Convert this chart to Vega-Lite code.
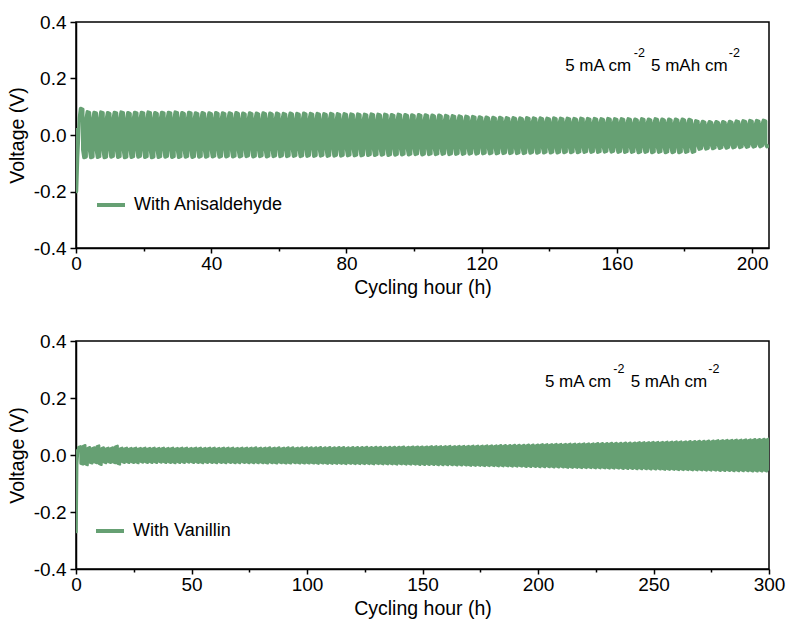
{
"$schema":"https://vega.github.io/schema/vega-lite/v6.json",
"background":"white",
"padding":{"left":6,"top":12,"right":18,"bottom":5},
"config":{
"font":"Liberation Sans",
"view":{"stroke":"black","strokeWidth":1.5},
"axis":{"domainColor":"black","domainWidth":1.5,"tickColor":"black","tickWidth":1.5,"labelColor":"black","titleColor":"black","labelFont":"Liberation Sans","titleFont":"Liberation Sans","labelFontSize":19,"titleFontSize":19.5,"titleFontWeight":"normal","grid":false,"labelFlush":false,"labelOverlap":false},
"legend":{"orient":"none","title":null,"symbolType":"stroke","symbolStrokeWidth":4,"symbolSize":784,"labelFontSize":18,"labelFont":"Liberation Sans","labelColor":"black","labelOffset":7,"padding":0}
},
"spacing":93,
"bounds":"flush",
"resolve":{"scale":{"x":"independent","y":"independent","color":"independent"},"legend":{"color":"independent"}},
"vconcat":[
{
"width":693,"height":226,
"layer":[
{"data":{"values":[
{"t":0,"v":0.025},{"t":0.15,"v":-0.2},{"t":0.45,"v":-0.085},
{"t":1,"v":0.06},{"t":1.35,"v":0.094},{"t":2,"v":0.091},{"t":2,"v":-0.052},{"t":2.35,"v":-0.08},{"t":3,"v":-0.077},
{"t":3,"v":0.058},{"t":3.35,"v":0.082},{"t":4,"v":0.079},{"t":4,"v":-0.052},{"t":4.35,"v":-0.08},{"t":5,"v":-0.077},
{"t":5,"v":0.058},{"t":5.35,"v":0.08},{"t":6,"v":0.077},{"t":6,"v":-0.051},{"t":6.35,"v":-0.079},{"t":7,"v":-0.076},
{"t":7,"v":0.058},{"t":7.35,"v":0.081},{"t":8,"v":0.078},{"t":8,"v":-0.052},{"t":8.35,"v":-0.08},{"t":9,"v":-0.077},
{"t":9,"v":0.057},{"t":9.35,"v":0.079},{"t":10,"v":0.076},{"t":10,"v":-0.051},{"t":10.35,"v":-0.078},{"t":11,"v":-0.075},
{"t":11,"v":0.058},{"t":11.35,"v":0.08},{"t":12,"v":0.077},{"t":12,"v":-0.052},{"t":12.35,"v":-0.079},{"t":13,"v":-0.076},
{"t":13,"v":0.058},{"t":13.35,"v":0.081},{"t":14,"v":0.078},{"t":14,"v":-0.051},{"t":14.35,"v":-0.08},{"t":15,"v":-0.077},
{"t":15,"v":0.057},{"t":15.35,"v":0.079},{"t":16,"v":0.076},{"t":16,"v":-0.051},{"t":16.35,"v":-0.079},{"t":17,"v":-0.076},
{"t":17,"v":0.058},{"t":17.35,"v":0.08},{"t":18,"v":0.077},{"t":18,"v":-0.052},{"t":18.35,"v":-0.078},{"t":19,"v":-0.075},
{"t":19,"v":0.058},{"t":19.35,"v":0.08},{"t":20,"v":0.077},{"t":20,"v":-0.051},{"t":20.35,"v":-0.079},{"t":21,"v":-0.076},
{"t":21,"v":0.057},{"t":21.35,"v":0.081},{"t":22,"v":0.078},{"t":22,"v":-0.052},{"t":22.35,"v":-0.08},{"t":23,"v":-0.077},
{"t":23,"v":0.058},{"t":23.35,"v":0.079},{"t":24,"v":0.076},{"t":24,"v":-0.051},{"t":24.35,"v":-0.079},{"t":25,"v":-0.076},
{"t":25,"v":0.058},{"t":25.35,"v":0.08},{"t":26,"v":0.077},{"t":26,"v":-0.051},{"t":26.35,"v":-0.078},{"t":27,"v":-0.075},
{"t":27,"v":0.057},{"t":27.35,"v":0.08},{"t":28,"v":0.077},{"t":28,"v":-0.052},{"t":28.35,"v":-0.079},{"t":29,"v":-0.076},
{"t":29,"v":0.058},{"t":29.35,"v":0.081},{"t":30,"v":0.078},{"t":30,"v":-0.051},{"t":30.35,"v":-0.079},{"t":31,"v":-0.076},
{"t":31,"v":0.058},{"t":31.35,"v":0.079},{"t":32,"v":0.076},{"t":32,"v":-0.051},{"t":32.35,"v":-0.078},{"t":33,"v":-0.075},
{"t":33,"v":0.057},{"t":33.35,"v":0.08},{"t":34,"v":0.077},{"t":34,"v":-0.052},{"t":34.35,"v":-0.079},{"t":35,"v":-0.076},
{"t":35,"v":0.057},{"t":35.35,"v":0.078},{"t":36,"v":0.075},{"t":36,"v":-0.051},{"t":36.35,"v":-0.078},{"t":37,"v":-0.075},
{"t":37,"v":0.057},{"t":37.35,"v":0.079},{"t":38,"v":0.076},{"t":38,"v":-0.051},{"t":38.35,"v":-0.078},{"t":39,"v":-0.075},
{"t":39,"v":0.056},{"t":39.35,"v":0.078},{"t":40,"v":0.075},{"t":40,"v":-0.05},{"t":40.35,"v":-0.077},{"t":41,"v":-0.074},
{"t":41,"v":0.057},{"t":41.35,"v":0.079},{"t":42,"v":0.076},{"t":42,"v":-0.051},{"t":42.35,"v":-0.078},{"t":43,"v":-0.075},
{"t":43,"v":0.056},{"t":43.35,"v":0.078},{"t":44,"v":0.075},{"t":44,"v":-0.05},{"t":44.35,"v":-0.077},{"t":45,"v":-0.074},
{"t":45,"v":0.056},{"t":45.35,"v":0.078},{"t":46,"v":0.075},{"t":46,"v":-0.05},{"t":46.35,"v":-0.077},{"t":47,"v":-0.074},
{"t":47,"v":0.057},{"t":47.35,"v":0.079},{"t":48,"v":0.076},{"t":48,"v":-0.051},{"t":48.35,"v":-0.077},{"t":49,"v":-0.074},
{"t":49,"v":0.056},{"t":49.35,"v":0.077},{"t":50,"v":0.074},{"t":50,"v":-0.05},{"t":50.35,"v":-0.076},{"t":51,"v":-0.073},
{"t":51,"v":0.056},{"t":51.35,"v":0.078},{"t":52,"v":0.075},{"t":52,"v":-0.05},{"t":52.35,"v":-0.077},{"t":53,"v":-0.074},
{"t":53,"v":0.056},{"t":53.35,"v":0.077},{"t":54,"v":0.074},{"t":54,"v":-0.05},{"t":54.35,"v":-0.076},{"t":55,"v":-0.073},
{"t":55,"v":0.055},{"t":55.35,"v":0.078},{"t":56,"v":0.075},{"t":56,"v":-0.05},{"t":56.35,"v":-0.077},{"t":57,"v":-0.074},
{"t":57,"v":0.056},{"t":57.35,"v":0.077},{"t":58,"v":0.074},{"t":58,"v":-0.05},{"t":58.35,"v":-0.076},{"t":59,"v":-0.073},
{"t":59,"v":0.056},{"t":59.35,"v":0.077},{"t":60,"v":0.074},{"t":60,"v":-0.049},{"t":60.35,"v":-0.076},{"t":61,"v":-0.073},
{"t":61,"v":0.055},{"t":61.35,"v":0.076},{"t":62,"v":0.073},{"t":62,"v":-0.05},{"t":62.35,"v":-0.076},{"t":63,"v":-0.073},
{"t":63,"v":0.056},{"t":63.35,"v":0.077},{"t":64,"v":0.074},{"t":64,"v":-0.049},{"t":64.35,"v":-0.075},{"t":65,"v":-0.072},
{"t":65,"v":0.055},{"t":65.35,"v":0.076},{"t":66,"v":0.073},{"t":66,"v":-0.05},{"t":66.35,"v":-0.076},{"t":67,"v":-0.073},
{"t":67,"v":0.055},{"t":67.35,"v":0.077},{"t":68,"v":0.074},{"t":68,"v":-0.049},{"t":68.35,"v":-0.075},{"t":69,"v":-0.072},
{"t":69,"v":0.055},{"t":69.35,"v":0.076},{"t":70,"v":0.073},{"t":70,"v":-0.049},{"t":70.35,"v":-0.075},{"t":71,"v":-0.072},
{"t":71,"v":0.055},{"t":71.35,"v":0.076},{"t":72,"v":0.073},{"t":72,"v":-0.049},{"t":72.35,"v":-0.074},{"t":73,"v":-0.071},
{"t":73,"v":0.054},{"t":73.35,"v":0.075},{"t":74,"v":0.072},{"t":74,"v":-0.049},{"t":74.35,"v":-0.075},{"t":75,"v":-0.072},
{"t":75,"v":0.055},{"t":75.35,"v":0.076},{"t":76,"v":0.073},{"t":76,"v":-0.048},{"t":76.35,"v":-0.074},{"t":77,"v":-0.071},
{"t":77,"v":0.054},{"t":77.35,"v":0.075},{"t":78,"v":0.072},{"t":78,"v":-0.049},{"t":78.35,"v":-0.074},{"t":79,"v":-0.071},
{"t":79,"v":0.054},{"t":79.35,"v":0.075},{"t":80,"v":0.072},{"t":80,"v":-0.048},{"t":80.35,"v":-0.073},{"t":81,"v":-0.07},
{"t":81,"v":0.054},{"t":81.35,"v":0.074},{"t":82,"v":0.071},{"t":82,"v":-0.048},{"t":82.35,"v":-0.073},{"t":83,"v":-0.07},
{"t":83,"v":0.053},{"t":83.35,"v":0.074},{"t":84,"v":0.071},{"t":84,"v":-0.048},{"t":84.35,"v":-0.073},{"t":85,"v":-0.07},
{"t":85,"v":0.053},{"t":85.35,"v":0.073},{"t":86,"v":0.07},{"t":86,"v":-0.047},{"t":86.35,"v":-0.072},{"t":87,"v":-0.069},
{"t":87,"v":0.053},{"t":87.35,"v":0.074},{"t":88,"v":0.071},{"t":88,"v":-0.048},{"t":88.35,"v":-0.072},{"t":89,"v":-0.069},
{"t":89,"v":0.052},{"t":89.35,"v":0.073},{"t":90,"v":0.07},{"t":90,"v":-0.047},{"t":90.35,"v":-0.071},{"t":91,"v":-0.068},
{"t":91,"v":0.053},{"t":91.35,"v":0.073},{"t":92,"v":0.07},{"t":92,"v":-0.047},{"t":92.35,"v":-0.072},{"t":93,"v":-0.069},
{"t":93,"v":0.052},{"t":93.35,"v":0.072},{"t":94,"v":0.069},{"t":94,"v":-0.047},{"t":94.35,"v":-0.071},{"t":95,"v":-0.068},
{"t":95,"v":0.052},{"t":95.35,"v":0.073},{"t":96,"v":0.07},{"t":96,"v":-0.047},{"t":96.35,"v":-0.07},{"t":97,"v":-0.067},
{"t":97,"v":0.052},{"t":97.35,"v":0.072},{"t":98,"v":0.069},{"t":98,"v":-0.046},{"t":98.35,"v":-0.07},{"t":99,"v":-0.067},
{"t":99,"v":0.051},{"t":99.35,"v":0.071},{"t":100,"v":0.068},{"t":100,"v":-0.046},{"t":100.35,"v":-0.069},{"t":101,"v":-0.066},
{"t":101,"v":0.051},{"t":101.35,"v":0.072},{"t":102,"v":0.069},{"t":102,"v":-0.046},{"t":102.35,"v":-0.07},{"t":103,"v":-0.067},
{"t":103,"v":0.051},{"t":103.35,"v":0.071},{"t":104,"v":0.068},{"t":104,"v":-0.046},{"t":104.35,"v":-0.069},{"t":105,"v":-0.066},
{"t":105,"v":0.05},{"t":105.35,"v":0.07},{"t":106,"v":0.067},{"t":106,"v":-0.046},{"t":106.35,"v":-0.069},{"t":107,"v":-0.066},
{"t":107,"v":0.05},{"t":107.35,"v":0.07},{"t":108,"v":0.067},{"t":108,"v":-0.045},{"t":108.35,"v":-0.068},{"t":109,"v":-0.065},
{"t":109,"v":0.05},{"t":109.35,"v":0.069},{"t":110,"v":0.066},{"t":110,"v":-0.046},{"t":110.35,"v":-0.069},{"t":111,"v":-0.066},
{"t":111,"v":0.049},{"t":111.35,"v":0.068},{"t":112,"v":0.065},{"t":112,"v":-0.045},{"t":112.35,"v":-0.068},{"t":113,"v":-0.065},
{"t":113,"v":0.049},{"t":113.35,"v":0.067},{"t":114,"v":0.064},{"t":114,"v":-0.045},{"t":114.35,"v":-0.068},{"t":115,"v":-0.065},
{"t":115,"v":0.048},{"t":115.35,"v":0.066},{"t":116,"v":0.063},{"t":116,"v":-0.045},{"t":116.35,"v":-0.067},{"t":117,"v":-0.064},
{"t":117,"v":0.048},{"t":117.35,"v":0.065},{"t":118,"v":0.062},{"t":118,"v":-0.045},{"t":118.35,"v":-0.067},{"t":119,"v":-0.064},
{"t":119,"v":0.047},{"t":119.35,"v":0.064},{"t":120,"v":0.061},{"t":120,"v":-0.044},{"t":120.35,"v":-0.066},{"t":121,"v":-0.063},
{"t":121,"v":0.047},{"t":121.35,"v":0.063},{"t":122,"v":0.06},{"t":122,"v":-0.045},{"t":122.35,"v":-0.066},{"t":123,"v":-0.063},
{"t":123,"v":0.046},{"t":123.35,"v":0.062},{"t":124,"v":0.059},{"t":124,"v":-0.044},{"t":124.35,"v":-0.066},{"t":125,"v":-0.063},
{"t":125,"v":0.046},{"t":125.35,"v":0.062},{"t":126,"v":0.059},{"t":126,"v":-0.045},{"t":126.35,"v":-0.065},{"t":127,"v":-0.062},
{"t":127,"v":0.046},{"t":127.35,"v":0.061},{"t":128,"v":0.058},{"t":128,"v":-0.044},{"t":128.35,"v":-0.065},{"t":129,"v":-0.062},
{"t":129,"v":0.045},{"t":129.35,"v":0.061},{"t":130,"v":0.058},{"t":130,"v":-0.045},{"t":130.35,"v":-0.065},{"t":131,"v":-0.062},
{"t":131,"v":0.045},{"t":131.35,"v":0.06},{"t":132,"v":0.057},{"t":132,"v":-0.044},{"t":132.35,"v":-0.065},{"t":133,"v":-0.062},
{"t":133,"v":0.045},{"t":133.35,"v":0.061},{"t":134,"v":0.058},{"t":134,"v":-0.044},{"t":134.35,"v":-0.064},{"t":135,"v":-0.061},
{"t":135,"v":0.045},{"t":135.35,"v":0.06},{"t":136,"v":0.057},{"t":136,"v":-0.044},{"t":136.35,"v":-0.064},{"t":137,"v":-0.061},
{"t":137,"v":0.044},{"t":137.35,"v":0.06},{"t":138,"v":0.057},{"t":138,"v":-0.044},{"t":138.35,"v":-0.063},{"t":139,"v":-0.06},
{"t":139,"v":0.045},{"t":139.35,"v":0.059},{"t":140,"v":0.056},{"t":140,"v":-0.043},{"t":140.35,"v":-0.063},{"t":141,"v":-0.06},
{"t":141,"v":0.044},{"t":141.35,"v":0.06},{"t":142,"v":0.057},{"t":142,"v":-0.044},{"t":142.35,"v":-0.063},{"t":143,"v":-0.06},
{"t":143,"v":0.044},{"t":143.35,"v":0.059},{"t":144,"v":0.056},{"t":144,"v":-0.043},{"t":144.35,"v":-0.062},{"t":145,"v":-0.059},
{"t":145,"v":0.044},{"t":145.35,"v":0.059},{"t":146,"v":0.056},{"t":146,"v":-0.043},{"t":146.35,"v":-0.062},{"t":147,"v":-0.059},
{"t":147,"v":0.044},{"t":147.35,"v":0.058},{"t":148,"v":0.055},{"t":148,"v":-0.043},{"t":148.35,"v":-0.062},{"t":149,"v":-0.059},
{"t":149,"v":0.043},{"t":149.35,"v":0.059},{"t":150,"v":0.056},{"t":150,"v":-0.043},{"t":150.35,"v":-0.061},{"t":151,"v":-0.058},
{"t":151,"v":0.044},{"t":151.35,"v":0.058},{"t":152,"v":0.055},{"t":152,"v":-0.042},{"t":152.35,"v":-0.061},{"t":153,"v":-0.058},
{"t":153,"v":0.043},{"t":153.35,"v":0.058},{"t":154,"v":0.055},{"t":154,"v":-0.043},{"t":154.35,"v":-0.061},{"t":155,"v":-0.058},
{"t":155,"v":0.043},{"t":155.35,"v":0.057},{"t":156,"v":0.054},{"t":156,"v":-0.042},{"t":156.35,"v":-0.06},{"t":157,"v":-0.057},
{"t":157,"v":0.043},{"t":157.35,"v":0.058},{"t":158,"v":0.055},{"t":158,"v":-0.042},{"t":158.35,"v":-0.06},{"t":159,"v":-0.057},
{"t":159,"v":0.043},{"t":159.35,"v":0.057},{"t":160,"v":0.054},{"t":160,"v":-0.042},{"t":160.35,"v":-0.061},{"t":161,"v":-0.058},
{"t":161,"v":0.043},{"t":161.35,"v":0.057},{"t":162,"v":0.054},{"t":162,"v":-0.043},{"t":162.35,"v":-0.061},{"t":163,"v":-0.058},
{"t":163,"v":0.042},{"t":163.35,"v":0.057},{"t":164,"v":0.054},{"t":164,"v":-0.042},{"t":164.35,"v":-0.061},{"t":165,"v":-0.058},
{"t":165,"v":0.042},{"t":165.35,"v":0.056},{"t":166,"v":0.053},{"t":166,"v":-0.043},{"t":166.35,"v":-0.062},{"t":167,"v":-0.059},
{"t":167,"v":0.043},{"t":167.35,"v":0.057},{"t":168,"v":0.054},{"t":168,"v":-0.042},{"t":168.35,"v":-0.061},{"t":169,"v":-0.058},
{"t":169,"v":0.042},{"t":169.35,"v":0.056},{"t":170,"v":0.053},{"t":170,"v":-0.043},{"t":170.35,"v":-0.062},{"t":171,"v":-0.059},
{"t":171,"v":0.042},{"t":171.35,"v":0.057},{"t":172,"v":0.054},{"t":172,"v":-0.042},{"t":172.35,"v":-0.061},{"t":173,"v":-0.058},
{"t":173,"v":0.042},{"t":173.35,"v":0.056},{"t":174,"v":0.053},{"t":174,"v":-0.043},{"t":174.35,"v":-0.062},{"t":175,"v":-0.059},
{"t":175,"v":0.042},{"t":175.35,"v":0.056},{"t":176,"v":0.053},{"t":176,"v":-0.042},{"t":176.35,"v":-0.062},{"t":177,"v":-0.059},
{"t":177,"v":0.041},{"t":177.35,"v":0.056},{"t":178,"v":0.053},{"t":178,"v":-0.043},{"t":178.35,"v":-0.062},{"t":179,"v":-0.059},
{"t":179,"v":0.042},{"t":179.35,"v":0.056},{"t":180,"v":0.053},{"t":180,"v":-0.042},{"t":180.35,"v":-0.061},{"t":181,"v":-0.058},
{"t":181,"v":0.041},{"t":181.35,"v":0.055},{"t":182,"v":0.052},{"t":182,"v":-0.042},{"t":182.35,"v":-0.061},{"t":183,"v":-0.058},
{"t":183,"v":0.037},{"t":183.35,"v":0.05},{"t":184,"v":0.047},{"t":184,"v":-0.038},{"t":184.35,"v":-0.05},{"t":185,"v":-0.047},
{"t":185,"v":0.036},{"t":185.35,"v":0.048},{"t":186,"v":0.045},{"t":186,"v":-0.037},{"t":186.35,"v":-0.049},{"t":187,"v":-0.046},
{"t":187,"v":0.035},{"t":187.35,"v":0.047},{"t":188,"v":0.044},{"t":188,"v":-0.036},{"t":188.35,"v":-0.048},{"t":189,"v":-0.045},
{"t":189,"v":0.035},{"t":189.35,"v":0.047},{"t":190,"v":0.044},{"t":190,"v":-0.035},{"t":190.35,"v":-0.047},{"t":191,"v":-0.044},
{"t":191,"v":0.036},{"t":191.35,"v":0.047},{"t":192,"v":0.044},{"t":192,"v":-0.035},{"t":192.35,"v":-0.046},{"t":193,"v":-0.043},
{"t":193,"v":0.036},{"t":193.35,"v":0.048},{"t":194,"v":0.045},{"t":194,"v":-0.034},{"t":194.35,"v":-0.045},{"t":195,"v":-0.042},
{"t":195,"v":0.037},{"t":195.35,"v":0.049},{"t":196,"v":0.046},{"t":196,"v":-0.033},{"t":196.35,"v":-0.044},{"t":197,"v":-0.041},
{"t":197,"v":0.037},{"t":197.35,"v":0.05},{"t":198,"v":0.047},{"t":198,"v":-0.033},{"t":198.35,"v":-0.043},{"t":199,"v":-0.04},
{"t":199,"v":0.038},{"t":199.35,"v":0.051},{"t":200,"v":0.048},{"t":200,"v":-0.032},{"t":200.35,"v":-0.042},{"t":201,"v":-0.039},
{"t":201,"v":0.038},{"t":201.35,"v":0.051},{"t":202,"v":0.048},{"t":202,"v":-0.031},{"t":202.35,"v":-0.041},{"t":203,"v":-0.038},
{"t":203,"v":0.039},{"t":203.35,"v":0.052},{"t":204,"v":0.049},{"t":204,"v":-0.031},{"t":204.35,"v":-0.041},{"t":205,"v":-0.038}
]},
"mark":{"type":"line","strokeWidth":3.5,"clip":true,"strokeJoin":"round"},
"encoding":{
"x":{"field":"t","type":"quantitative","scale":{"domain":[0,205],"nice":false,"zero":false},
"axis":{"title":"Cycling hour (h)","values":[0,20,40,60,80,100,120,140,160,180,200],"labelExpr":"datum.value % 40 == 0 ? datum.label : ''","tickSize":{"condition":{"test":"datum.value % 40 != 0","value":3},"value":5},"labelPadding":1,"titlePadding":5}},
"y":{"field":"v","type":"quantitative","scale":{"domain":[-0.4,0.4],"nice":false},
"axis":{"title":"Voltage (V)","values":[-0.4,-0.3,-0.2,-0.1,0,0.1,0.2,0.3,0.4],"labelExpr":"abs(round(datum.value*10)) % 2 == 0 ? replace(format(datum.value,'.1f'),'\u2212','-') : ''","tickSize":{"condition":{"test":"abs(round(datum.value*10)) % 2 == 1","value":3},"value":6},"labelPadding":4,"titlePadding":6}},
"color":{"datum":"With Anisaldehyde","scale":{"range":["#66A073"]},"legend":{"legendX":19,"legendY":167}}
}},
{"data":{"values":[{"t":144.7,"v":0.225,"s":"5 mA cm"},{"t":170.1,"v":0.225,"s":"5 mAh cm"}]},
"mark":{"type":"text","align":"left","baseline":"alphabetic","fontSize":17,"font":"Liberation Sans","color":"black"},
"encoding":{"x":{"field":"t","type":"quantitative"},"y":{"field":"v","type":"quantitative"},"text":{"field":"s"}}},
{"data":{"values":[{"t":165,"v":0.276,"s":"-2"},{"t":193.1,"v":0.276,"s":"-2"}]},
"mark":{"type":"text","align":"left","baseline":"alphabetic","fontSize":12.5,"font":"Liberation Sans","color":"black"},
"encoding":{"x":{"field":"t","type":"quantitative"},"y":{"field":"v","type":"quantitative"},"text":{"field":"s"}}}
]
},
{
"width":693,"height":228,
"layer":[
{"data":{"values":[
{"t":0,"v":0.02},{"t":0.2,"v":-0.27},{"t":0.5,"v":-0.03},
{"t":1,"v":0.027},{"t":2,"v":0.03},{"t":2,"v":-0.03},{"t":3,"v":-0.033},
{"t":3,"v":0.031},{"t":4,"v":0.034},{"t":4,"v":-0.032},{"t":5,"v":-0.035},
{"t":5,"v":0.024},{"t":6,"v":0.027},{"t":6,"v":-0.026},{"t":7,"v":-0.029},
{"t":7,"v":0.023},{"t":8,"v":0.026},{"t":8,"v":-0.025},{"t":9,"v":-0.028},
{"t":9,"v":0.03},{"t":10,"v":0.033},{"t":10,"v":-0.031},{"t":11,"v":-0.034},
{"t":11,"v":0.023},{"t":12,"v":0.026},{"t":12,"v":-0.025},{"t":13,"v":-0.028},
{"t":13,"v":0.022},{"t":14,"v":0.025},{"t":14,"v":-0.024},{"t":15,"v":-0.027},
{"t":15,"v":0.023},{"t":16,"v":0.026},{"t":16,"v":-0.025},{"t":17,"v":-0.028},
{"t":17,"v":0.029},{"t":18,"v":0.032},{"t":18,"v":-0.03},{"t":19,"v":-0.033},
{"t":19,"v":0.022},{"t":20,"v":0.025},{"t":20,"v":-0.024},{"t":21,"v":-0.027},
{"t":21,"v":0.022},{"t":22,"v":0.025},{"t":22,"v":-0.024},{"t":23,"v":-0.027},
{"t":23,"v":0.021},{"t":24,"v":0.024},{"t":24,"v":-0.024},{"t":25,"v":-0.027},
{"t":25,"v":0.022},{"t":26,"v":0.025},{"t":26,"v":-0.025},{"t":27,"v":-0.028},
{"t":27,"v":0.021},{"t":28,"v":0.024},{"t":28,"v":-0.023},{"t":29,"v":-0.026},
{"t":29,"v":0.022},{"t":30,"v":0.025},{"t":30,"v":-0.024},{"t":31,"v":-0.027},
{"t":31,"v":0.021},{"t":32,"v":0.024},{"t":32,"v":-0.024},{"t":33,"v":-0.027},
{"t":33,"v":0.022},{"t":34,"v":0.025},{"t":34,"v":-0.024},{"t":35,"v":-0.027},
{"t":35,"v":0.021},{"t":36,"v":0.024},{"t":36,"v":-0.023},{"t":37,"v":-0.026},
{"t":37,"v":0.022},{"t":38,"v":0.025},{"t":38,"v":-0.024},{"t":39,"v":-0.027},
{"t":39,"v":0.021},{"t":40,"v":0.024},{"t":40,"v":-0.024},{"t":41,"v":-0.027},
{"t":41,"v":0.022},{"t":42,"v":0.025},{"t":42,"v":-0.025},{"t":43,"v":-0.028},
{"t":43,"v":0.021},{"t":44,"v":0.024},{"t":44,"v":-0.024},{"t":45,"v":-0.027},
{"t":45,"v":0.022},{"t":46,"v":0.025},{"t":46,"v":-0.024},{"t":47,"v":-0.027},
{"t":47,"v":0.022},{"t":48,"v":0.025},{"t":48,"v":-0.023},{"t":49,"v":-0.026},
{"t":49,"v":0.021},{"t":50,"v":0.024},{"t":50,"v":-0.024},{"t":51,"v":-0.027},
{"t":51,"v":0.022},{"t":52,"v":0.025},{"t":52,"v":-0.024},{"t":53,"v":-0.027},
{"t":53,"v":0.022},{"t":54,"v":0.025},{"t":54,"v":-0.025},{"t":55,"v":-0.028},
{"t":55,"v":0.021},{"t":56,"v":0.024},{"t":56,"v":-0.024},{"t":57,"v":-0.027},
{"t":57,"v":0.022},{"t":58,"v":0.025},{"t":58,"v":-0.024},{"t":59,"v":-0.027},
{"t":59,"v":0.022},{"t":60,"v":0.025},{"t":60,"v":-0.025},{"t":61,"v":-0.028},
{"t":61,"v":0.021},{"t":62,"v":0.024},{"t":62,"v":-0.024},{"t":63,"v":-0.027},
{"t":63,"v":0.022},{"t":64,"v":0.025},{"t":64,"v":-0.025},{"t":65,"v":-0.028},
{"t":65,"v":0.022},{"t":66,"v":0.025},{"t":66,"v":-0.024},{"t":67,"v":-0.027},
{"t":67,"v":0.022},{"t":68,"v":0.025},{"t":68,"v":-0.025},{"t":69,"v":-0.028},
{"t":69,"v":0.021},{"t":70,"v":0.024},{"t":70,"v":-0.025},{"t":71,"v":-0.028},
{"t":71,"v":0.022},{"t":72,"v":0.025},{"t":72,"v":-0.024},{"t":73,"v":-0.027},
{"t":73,"v":0.022},{"t":74,"v":0.025},{"t":74,"v":-0.025},{"t":75,"v":-0.028},
{"t":75,"v":0.022},{"t":76,"v":0.025},{"t":76,"v":-0.025},{"t":77,"v":-0.028},
{"t":77,"v":0.023},{"t":78,"v":0.026},{"t":78,"v":-0.025},{"t":79,"v":-0.028},
{"t":79,"v":0.022},{"t":80,"v":0.025},{"t":80,"v":-0.025},{"t":81,"v":-0.028},
{"t":81,"v":0.022},{"t":82,"v":0.025},{"t":82,"v":-0.026},{"t":83,"v":-0.029},
{"t":83,"v":0.023},{"t":84,"v":0.026},{"t":84,"v":-0.025},{"t":85,"v":-0.028},
{"t":85,"v":0.022},{"t":86,"v":0.025},{"t":86,"v":-0.026},{"t":87,"v":-0.029},
{"t":87,"v":0.023},{"t":88,"v":0.026},{"t":88,"v":-0.025},{"t":89,"v":-0.028},
{"t":89,"v":0.022},{"t":90,"v":0.025},{"t":90,"v":-0.026},{"t":91,"v":-0.029},
{"t":91,"v":0.023},{"t":92,"v":0.026},{"t":92,"v":-0.026},{"t":93,"v":-0.029},
{"t":93,"v":0.023},{"t":94,"v":0.026},{"t":94,"v":-0.025},{"t":95,"v":-0.028},
{"t":95,"v":0.022},{"t":96,"v":0.025},{"t":96,"v":-0.026},{"t":97,"v":-0.029},
{"t":97,"v":0.023},{"t":98,"v":0.026},{"t":98,"v":-0.026},{"t":99,"v":-0.029},
{"t":99,"v":0.023},{"t":100,"v":0.026},{"t":100,"v":-0.026},{"t":101,"v":-0.029},
{"t":101,"v":0.023},{"t":102,"v":0.026},{"t":102,"v":-0.026},{"t":103,"v":-0.029},
{"t":103,"v":0.023},{"t":104,"v":0.026},{"t":104,"v":-0.027},{"t":105,"v":-0.03},
{"t":105,"v":0.024},{"t":106,"v":0.027},{"t":106,"v":-0.026},{"t":107,"v":-0.029},
{"t":107,"v":0.023},{"t":108,"v":0.026},{"t":108,"v":-0.027},{"t":109,"v":-0.03},
{"t":109,"v":0.024},{"t":110,"v":0.027},{"t":110,"v":-0.027},{"t":111,"v":-0.03},
{"t":111,"v":0.023},{"t":112,"v":0.026},{"t":112,"v":-0.027},{"t":113,"v":-0.03},
{"t":113,"v":0.024},{"t":114,"v":0.027},{"t":114,"v":-0.027},{"t":115,"v":-0.03},
{"t":115,"v":0.024},{"t":116,"v":0.027},{"t":116,"v":-0.028},{"t":117,"v":-0.031},
{"t":117,"v":0.023},{"t":118,"v":0.026},{"t":118,"v":-0.027},{"t":119,"v":-0.03},
{"t":119,"v":0.024},{"t":120,"v":0.027},{"t":120,"v":-0.028},{"t":121,"v":-0.031},
{"t":121,"v":0.024},{"t":122,"v":0.027},{"t":122,"v":-0.028},{"t":123,"v":-0.031},
{"t":123,"v":0.024},{"t":124,"v":0.027},{"t":124,"v":-0.028},{"t":125,"v":-0.031},
{"t":125,"v":0.025},{"t":126,"v":0.028},{"t":126,"v":-0.028},{"t":127,"v":-0.031},
{"t":127,"v":0.024},{"t":128,"v":0.027},{"t":128,"v":-0.029},{"t":129,"v":-0.032},
{"t":129,"v":0.025},{"t":130,"v":0.028},{"t":130,"v":-0.028},{"t":131,"v":-0.031},
{"t":131,"v":0.025},{"t":132,"v":0.028},{"t":132,"v":-0.029},{"t":133,"v":-0.032},
{"t":133,"v":0.024},{"t":134,"v":0.027},{"t":134,"v":-0.029},{"t":135,"v":-0.032},
{"t":135,"v":0.025},{"t":136,"v":0.028},{"t":136,"v":-0.029},{"t":137,"v":-0.032},
{"t":137,"v":0.025},{"t":138,"v":0.028},{"t":138,"v":-0.03},{"t":139,"v":-0.033},
{"t":139,"v":0.025},{"t":140,"v":0.028},{"t":140,"v":-0.029},{"t":141,"v":-0.032},
{"t":141,"v":0.026},{"t":142,"v":0.029},{"t":142,"v":-0.03},{"t":143,"v":-0.033},
{"t":143,"v":0.025},{"t":144,"v":0.028},{"t":144,"v":-0.03},{"t":145,"v":-0.033},
{"t":145,"v":0.026},{"t":146,"v":0.029},{"t":146,"v":-0.03},{"t":147,"v":-0.033},
{"t":147,"v":0.026},{"t":148,"v":0.029},{"t":148,"v":-0.031},{"t":149,"v":-0.034},
{"t":149,"v":0.026},{"t":150,"v":0.029},{"t":150,"v":-0.031},{"t":151,"v":-0.034},
{"t":151,"v":0.026},{"t":152,"v":0.029},{"t":152,"v":-0.031},{"t":153,"v":-0.034},
{"t":153,"v":0.027},{"t":154,"v":0.03},{"t":154,"v":-0.031},{"t":155,"v":-0.034},
{"t":155,"v":0.027},{"t":156,"v":0.03},{"t":156,"v":-0.032},{"t":157,"v":-0.035},
{"t":157,"v":0.027},{"t":158,"v":0.03},{"t":158,"v":-0.032},{"t":159,"v":-0.035},
{"t":159,"v":0.027},{"t":160,"v":0.03},{"t":160,"v":-0.032},{"t":161,"v":-0.035},
{"t":161,"v":0.028},{"t":162,"v":0.031},{"t":162,"v":-0.032},{"t":163,"v":-0.035},
{"t":163,"v":0.027},{"t":164,"v":0.03},{"t":164,"v":-0.033},{"t":165,"v":-0.036},
{"t":165,"v":0.028},{"t":166,"v":0.031},{"t":166,"v":-0.033},{"t":167,"v":-0.036},
{"t":167,"v":0.028},{"t":168,"v":0.031},{"t":168,"v":-0.033},{"t":169,"v":-0.036},
{"t":169,"v":0.028},{"t":170,"v":0.031},{"t":170,"v":-0.034},{"t":171,"v":-0.037},
{"t":171,"v":0.029},{"t":172,"v":0.032},{"t":172,"v":-0.034},{"t":173,"v":-0.037},
{"t":173,"v":0.029},{"t":174,"v":0.032},{"t":174,"v":-0.034},{"t":175,"v":-0.037},
{"t":175,"v":0.029},{"t":176,"v":0.032},{"t":176,"v":-0.035},{"t":177,"v":-0.038},
{"t":177,"v":0.03},{"t":178,"v":0.033},{"t":178,"v":-0.035},{"t":179,"v":-0.038},
{"t":179,"v":0.03},{"t":180,"v":0.033},{"t":180,"v":-0.035},{"t":181,"v":-0.038},
{"t":181,"v":0.03},{"t":182,"v":0.033},{"t":182,"v":-0.036},{"t":183,"v":-0.039},
{"t":183,"v":0.031},{"t":184,"v":0.034},{"t":184,"v":-0.036},{"t":185,"v":-0.039},
{"t":185,"v":0.031},{"t":186,"v":0.034},{"t":186,"v":-0.036},{"t":187,"v":-0.039},
{"t":187,"v":0.031},{"t":188,"v":0.034},{"t":188,"v":-0.037},{"t":189,"v":-0.04},
{"t":189,"v":0.032},{"t":190,"v":0.035},{"t":190,"v":-0.037},{"t":191,"v":-0.04},
{"t":191,"v":0.032},{"t":192,"v":0.035},{"t":192,"v":-0.037},{"t":193,"v":-0.04},
{"t":193,"v":0.032},{"t":194,"v":0.035},{"t":194,"v":-0.038},{"t":195,"v":-0.041},
{"t":195,"v":0.033},{"t":196,"v":0.036},{"t":196,"v":-0.038},{"t":197,"v":-0.041},
{"t":197,"v":0.033},{"t":198,"v":0.036},{"t":198,"v":-0.038},{"t":199,"v":-0.041},
{"t":199,"v":0.033},{"t":200,"v":0.036},{"t":200,"v":-0.039},{"t":201,"v":-0.042},
{"t":201,"v":0.034},{"t":202,"v":0.037},{"t":202,"v":-0.039},{"t":203,"v":-0.042},
{"t":203,"v":0.034},{"t":204,"v":0.037},{"t":204,"v":-0.039},{"t":205,"v":-0.042},
{"t":205,"v":0.034},{"t":206,"v":0.037},{"t":206,"v":-0.04},{"t":207,"v":-0.043},
{"t":207,"v":0.035},{"t":208,"v":0.038},{"t":208,"v":-0.04},{"t":209,"v":-0.043},
{"t":209,"v":0.035},{"t":210,"v":0.038},{"t":210,"v":-0.04},{"t":211,"v":-0.043},
{"t":211,"v":0.035},{"t":212,"v":0.038},{"t":212,"v":-0.041},{"t":213,"v":-0.044},
{"t":213,"v":0.036},{"t":214,"v":0.039},{"t":214,"v":-0.041},{"t":215,"v":-0.044},
{"t":215,"v":0.036},{"t":216,"v":0.039},{"t":216,"v":-0.041},{"t":217,"v":-0.044},
{"t":217,"v":0.036},{"t":218,"v":0.039},{"t":218,"v":-0.042},{"t":219,"v":-0.045},
{"t":219,"v":0.037},{"t":220,"v":0.04},{"t":220,"v":-0.042},{"t":221,"v":-0.045},
{"t":221,"v":0.037},{"t":222,"v":0.04},{"t":222,"v":-0.042},{"t":223,"v":-0.045},
{"t":223,"v":0.037},{"t":224,"v":0.04},{"t":224,"v":-0.043},{"t":225,"v":-0.046},
{"t":225,"v":0.038},{"t":226,"v":0.041},{"t":226,"v":-0.043},{"t":227,"v":-0.046},
{"t":227,"v":0.038},{"t":228,"v":0.041},{"t":228,"v":-0.043},{"t":229,"v":-0.046},
{"t":229,"v":0.038},{"t":230,"v":0.041},{"t":230,"v":-0.044},{"t":231,"v":-0.047},
{"t":231,"v":0.039},{"t":232,"v":0.042},{"t":232,"v":-0.044},{"t":233,"v":-0.047},
{"t":233,"v":0.039},{"t":234,"v":0.042},{"t":234,"v":-0.044},{"t":235,"v":-0.047},
{"t":235,"v":0.039},{"t":236,"v":0.042},{"t":236,"v":-0.045},{"t":237,"v":-0.048},
{"t":237,"v":0.04},{"t":238,"v":0.043},{"t":238,"v":-0.045},{"t":239,"v":-0.048},
{"t":239,"v":0.04},{"t":240,"v":0.043},{"t":240,"v":-0.045},{"t":241,"v":-0.048},
{"t":241,"v":0.04},{"t":242,"v":0.043},{"t":242,"v":-0.046},{"t":243,"v":-0.049},
{"t":243,"v":0.041},{"t":244,"v":0.044},{"t":244,"v":-0.046},{"t":245,"v":-0.049},
{"t":245,"v":0.041},{"t":246,"v":0.044},{"t":246,"v":-0.046},{"t":247,"v":-0.049},
{"t":247,"v":0.041},{"t":248,"v":0.044},{"t":248,"v":-0.047},{"t":249,"v":-0.05},
{"t":249,"v":0.042},{"t":250,"v":0.045},{"t":250,"v":-0.047},{"t":251,"v":-0.05},
{"t":251,"v":0.042},{"t":252,"v":0.045},{"t":252,"v":-0.047},{"t":253,"v":-0.05},
{"t":253,"v":0.042},{"t":254,"v":0.045},{"t":254,"v":-0.048},{"t":255,"v":-0.051},
{"t":255,"v":0.043},{"t":256,"v":0.046},{"t":256,"v":-0.048},{"t":257,"v":-0.051},
{"t":257,"v":0.043},{"t":258,"v":0.046},{"t":258,"v":-0.048},{"t":259,"v":-0.051},
{"t":259,"v":0.044},{"t":260,"v":0.047},{"t":260,"v":-0.049},{"t":261,"v":-0.052},
{"t":261,"v":0.044},{"t":262,"v":0.047},{"t":262,"v":-0.049},{"t":263,"v":-0.052},
{"t":263,"v":0.044},{"t":264,"v":0.047},{"t":264,"v":-0.049},{"t":265,"v":-0.052},
{"t":265,"v":0.045},{"t":266,"v":0.048},{"t":266,"v":-0.05},{"t":267,"v":-0.053},
{"t":267,"v":0.045},{"t":268,"v":0.048},{"t":268,"v":-0.05},{"t":269,"v":-0.053},
{"t":269,"v":0.046},{"t":270,"v":0.049},{"t":270,"v":-0.05},{"t":271,"v":-0.053},
{"t":271,"v":0.046},{"t":272,"v":0.049},{"t":272,"v":-0.051},{"t":273,"v":-0.054},
{"t":273,"v":0.047},{"t":274,"v":0.05},{"t":274,"v":-0.051},{"t":275,"v":-0.054},
{"t":275,"v":0.047},{"t":276,"v":0.05},{"t":276,"v":-0.051},{"t":277,"v":-0.054},
{"t":277,"v":0.048},{"t":278,"v":0.051},{"t":278,"v":-0.052},{"t":279,"v":-0.055},
{"t":279,"v":0.048},{"t":280,"v":0.051},{"t":280,"v":-0.052},{"t":281,"v":-0.055},
{"t":281,"v":0.049},{"t":282,"v":0.052},{"t":282,"v":-0.052},{"t":283,"v":-0.055},
{"t":283,"v":0.049},{"t":284,"v":0.052},{"t":284,"v":-0.053},{"t":285,"v":-0.056},
{"t":285,"v":0.05},{"t":286,"v":0.053},{"t":286,"v":-0.053},{"t":287,"v":-0.056},
{"t":287,"v":0.05},{"t":288,"v":0.053},{"t":288,"v":-0.053},{"t":289,"v":-0.056},
{"t":289,"v":0.051},{"t":290,"v":0.054},{"t":290,"v":-0.053},{"t":291,"v":-0.056},
{"t":291,"v":0.051},{"t":292,"v":0.054},{"t":292,"v":-0.054},{"t":293,"v":-0.057},
{"t":293,"v":0.052},{"t":294,"v":0.055},{"t":294,"v":-0.054},{"t":295,"v":-0.057},
{"t":295,"v":0.052},{"t":296,"v":0.055},{"t":296,"v":-0.054},{"t":297,"v":-0.057},
{"t":297,"v":0.053},{"t":298,"v":0.056},{"t":298,"v":-0.054},{"t":299,"v":-0.057},
{"t":299,"v":0.054},{"t":300,"v":0.057},{"t":300,"v":-0.055}
]},
"mark":{"type":"line","strokeWidth":2.6,"clip":true,"strokeJoin":"round"},
"encoding":{
"x":{"field":"t","type":"quantitative","scale":{"domain":[0,300],"nice":false,"zero":false},
"axis":{"title":"Cycling hour (h)","values":[0,25,50,75,100,125,150,175,200,225,250,275,300],"labelExpr":"datum.value % 50 == 0 ? datum.label : ''","tickSize":{"condition":{"test":"datum.value % 50 != 0","value":3},"value":5},"labelPadding":1,"titlePadding":5}},
"y":{"field":"v","type":"quantitative","scale":{"domain":[-0.4,0.4],"nice":false},
"axis":{"title":"Voltage (V)","values":[-0.4,-0.3,-0.2,-0.1,0,0.1,0.2,0.3,0.4],"labelExpr":"abs(round(datum.value*10)) % 2 == 0 ? replace(format(datum.value,'.1f'),'\u2212','-') : ''","tickSize":{"condition":{"test":"abs(round(datum.value*10)) % 2 == 1","value":3},"value":6},"labelPadding":4,"titlePadding":6}},
"color":{"datum":"With Vanillin","scale":{"range":["#66A073"]},"legend":{"legendX":18,"legendY":174}}
}},
{"data":{"values":[{"t":203,"v":0.2375,"s":"5 mA cm"},{"t":240.1,"v":0.2375,"s":"5 mAh cm"}]},
"mark":{"type":"text","align":"left","baseline":"alphabetic","fontSize":17,"font":"Liberation Sans","color":"black"},
"encoding":{"x":{"field":"t","type":"quantitative"},"y":{"field":"v","type":"quantitative"},"text":{"field":"s"}}},
{"data":{"values":[{"t":232.6,"v":0.289,"s":"-2"},{"t":273.7,"v":0.289,"s":"-2"}]},
"mark":{"type":"text","align":"left","baseline":"alphabetic","fontSize":12.5,"font":"Liberation Sans","color":"black"},
"encoding":{"x":{"field":"t","type":"quantitative"},"y":{"field":"v","type":"quantitative"},"text":{"field":"s"}}}
]
}
]
}
